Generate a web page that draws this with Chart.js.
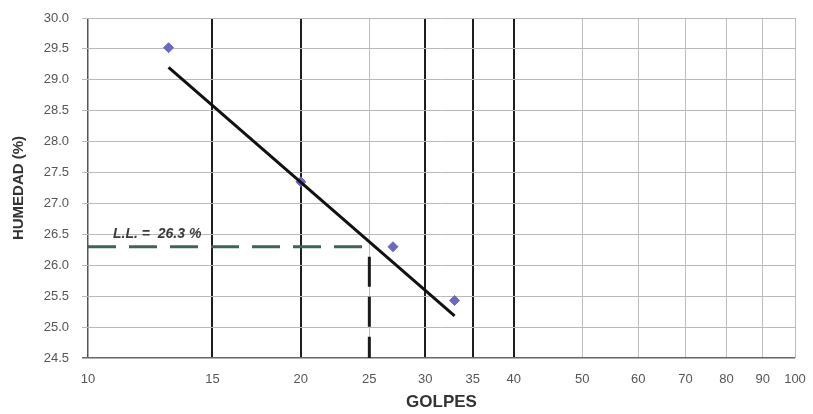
<!DOCTYPE html>
<html>
<head>
<meta charset="utf-8">
<script src="https://cdn.jsdelivr.net/npm/chart.js@4/dist/chart.umd.min.js"></script>
<style>
  html, body { margin: 0; padding: 0; background: #fff; }
  #wrap { width: 813px; height: 414px; }
</style>
</head>
<body>
<div id="wrap"><canvas id="chart" width="813" height="414"></canvas></div>
<script>
// ensayo de limite liquido - puntos medidos
const golpes = [13, 20, 27, 33];
const humedad = [29.52, 27.35, 26.3, 25.43];

// recta de ajuste (extremos)
const trendX = [13, 33];
const trendY = [29.2, 25.18];

// limite liquido a 25 golpes
const llGolpes = 25;
const llValor = 26.3;
const llTexto = "L.L. =  26.3 %";

const xTicks = [10, 15, 20, 25, 30, 35, 40, 50, 60, 70, 80, 90, 100];
const darkLines = [15, 20, 30, 35, 40];
const yMin = 24.5, yMax = 30.0;

// etiqueta del L.L.
const labelPlugin = {
  id: "llLabel",
  afterDatasetsDraw(chart) {
    const ctx = chart.ctx;
    const x = chart.scales.x.getPixelForValue(10.85);
    const y = chart.scales.y.getPixelForValue(26.5);
    ctx.save();
    ctx.font = "italic bold 14px Arial, 'Liberation Sans'";
    ctx.fillStyle = "#3a3a3a";
    ctx.textAlign = "left";
    ctx.textBaseline = "middle";
    ctx.fillText(llTexto, x, y);
    ctx.restore();
  }
};

new Chart(document.getElementById("chart"), {
  type: "scatter",
  data: {
    datasets: [
      {
        label: "LL horizontal",
        type: "line",
        data: [{ x: 10, y: llValor }, { x: llGolpes, y: llValor }],
        borderColor: "#3d6553",
        borderWidth: 3,
        borderDash: [28, 13],
        pointRadius: 0,
        clip: false
      },
      {
        label: "LL vertical",
        type: "line",
        data: [{ x: llGolpes, y: llValor }, { x: llGolpes, y: yMin }],
        borderColor: "#1a1a1a",
        borderWidth: 3,
        borderDash: [30, 10],
        borderDashOffset: 30,
        pointRadius: 0
      },
      {
        label: "Ajuste",
        type: "line",
        data: trendX.map((v, i) => ({ x: v, y: trendY[i] })),
        borderColor: "#111",
        borderWidth: 3,
        pointRadius: 0
      },
      {
        label: "Datos",
        data: golpes.map((v, i) => ({ x: v, y: humedad[i] })),
        backgroundColor: "#6a68c4",
        borderColor: "#6a68c4",
        pointStyle: "rectRot",
        pointRadius: 5
      }
    ]
  },
  options: {
    responsive: false,
    animation: false,
    layout: { padding: { top: 18, right: 18, left: 0, bottom: 0 } },
    plugins: {
      legend: { display: false },
      tooltip: { enabled: false }
    },
    scales: {
      x: {
        type: "logarithmic",
        min: 10,
        max: 100,
        afterBuildTicks(scale) {
          scale.ticks = xTicks.map(v => ({ value: v }));
        },
        afterFit(scale) {
          scale.height = 56;
          scale.paddingLeft = 0;
          scale.paddingRight = 0;
        },
        border: { display: false },
        grid: {
          drawTicks: false,
          color(ctx) {
            const v = ctx.tick && ctx.tick.value;
            if (darkLines.includes(v)) return "#1e1e1e";
            if (v === 10) return "#555";
            return "#bdbdbd";
          },
          lineWidth(ctx) {
            const v = ctx.tick && ctx.tick.value;
            if (darkLines.includes(v)) return 2;
            if (v === 10) return 1.5;
            return 1;
          }
        },
        ticks: {
          padding: 14,
          autoSkip: false,
          maxRotation: 0,
          color: "#555",
          font: { family: "Arial, 'Liberation Sans'", size: 13 },
          callback: v => String(v)
        },
        title: {
          display: true,
          text: "GOLPES",
          color: "#333",
          padding: { top: 0, bottom: 1 },
          font: { family: "Arial, 'Liberation Sans'", size: 17, weight: "bold" }
        }
      },
      y: {
        min: yMin,
        max: yMax,
        afterFit(scale) {
          scale.width = 88;
          scale.paddingTop = 0;
          scale.paddingBottom = 0;
        },
        border: { display: false },
        grid: {
          tickLength: 6,
          color(ctx) {
            const v = ctx.tick && ctx.tick.value;
            return v === yMin ? "#666" : "#b9b9b9";
          },
          lineWidth(ctx) {
            const v = ctx.tick && ctx.tick.value;
            return v === yMin ? 1.5 : 1;
          }
        },
        ticks: {
          stepSize: 0.5,
          padding: 13,
          color: "#555",
          font: { family: "Arial, 'Liberation Sans'", size: 13 },
          callback: v => v.toFixed(1)
        },
        title: {
          display: true,
          text: "HUMEDAD (%)",
          color: "#333",
          padding: { top: 10, bottom: 0 },
          font: { family: "Arial, 'Liberation Sans'", size: 15, weight: "bold" }
        }
      }
    }
  },
  plugins: [labelPlugin]
});
</script>
</body>
</html>
